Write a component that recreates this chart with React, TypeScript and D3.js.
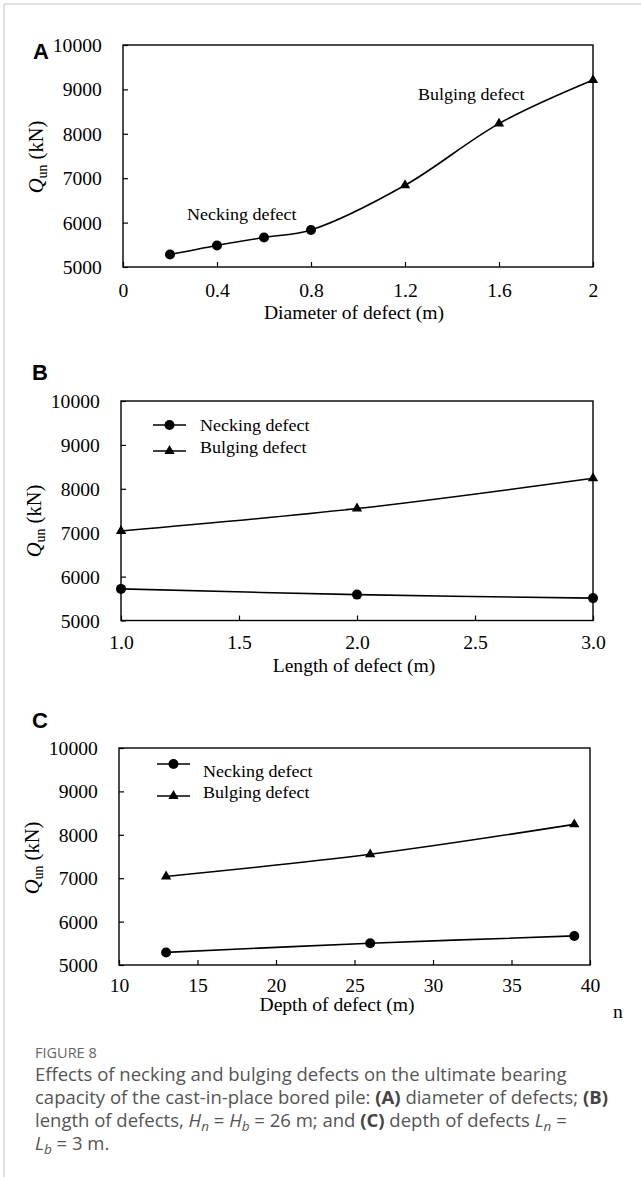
import React, { useEffect, useRef } from "react";
import * as d3 from "d3";

const W = 641;
const H = 1177;
const SERIF = "'Liberation Serif', 'Times New Roman', serif";
const SANS = "'Liberation Sans', Arial, sans-serif";
const CAPTION_FONT = "'Open Sans', 'Noto Sans', sans-serif";
const STRETCH = 1.06; // the serif text in the figure is a bit wider than Times

// shared y ticks
const qTicks = [5000, 6000, 7000, 8000, 9000, 10000];

// A: diameter of defect
const diameterNeckX = [0.2, 0.4, 0.6, 0.8];
const diameterNeckQ = [5280, 5485, 5665, 5835];
const diameterBulgeX = [1.2, 1.6, 2.0];
const diameterBulgeQ = [6840, 8230, 9210];
const diameterTicks = [0, 0.4, 0.8, 1.2, 1.6, 2];

// B: length of defect
const lengthX = [1, 2, 3];
const lengthNecking = [5720, 5590, 5510];
const lengthBulging = [7040, 7550, 8240];
const lengthTicks = [1.0, 1.5, 2.0, 2.5, 3.0];

// C: depth of defect
const depthX = [13, 26, 39];
const depthNecking = [5290, 5500, 5670];
const depthBulging = [7040, 7550, 8240];
const depthTicks = [10, 15, 20, 25, 30, 35, 40];

const seriesNames = ["Necking defect", "Bulging defect"];

const stretchText = (g, x, y, txt, size, anchor = "start") =>
  g
    .append("text")
    .attr("transform", `translate(${x},${y}) scale(${STRETCH},1)`)
    .attr("text-anchor", anchor)
    .style("font-family", SERIF)
    .attr("font-size", size)
    .attr("fill", "#000")
    .text(txt);

const drawMarker = (g, shape, cx, cy) => {
  if (shape === "circle") {
    g.append("circle").attr("cx", cx).attr("cy", cy).attr("r", 5).attr("fill", "#000");
  } else {
    g.append("path")
      .attr("d", d3.symbol(d3.symbolTriangle, 46)())
      .attr("transform", `translate(${cx},${cy})`)
      .attr("fill", "#000");
  }
};

const drawPanel = (svg, o) => {
  const g = svg.append("g");
  const x = d3.scaleLinear().domain(o.xDomain).range([o.left, o.right]);
  const y = d3.scaleLinear().domain([5000, 10000]).range([o.bottom, o.top]);

  // x axis, ticks pointing inward
  const xAxis = g
    .append("g")
    .attr("transform", `translate(0,${o.bottom})`)
    .call(
      d3.axisBottom(x).tickValues(o.xTicks).tickSizeInner(-5).tickSizeOuter(0).tickFormat(o.xFormat)
    );
  xAxis.select(".domain").remove();
  xAxis.attr("font-family", null);
  xAxis.selectAll(".tick line").attr("stroke", "#000").attr("stroke-width", 1.2);
  xAxis
    .selectAll(".tick text")
    .attr("y", o.xLabelDy)
    .attr("dy", null)
    .attr("transform", `scale(${STRETCH},1)`)
    .style("font-family", SERIF)
    .attr("font-size", 18.5)
    .attr("fill", "#000");

  // y axis, ticks pointing inward
  const yAxis = g
    .append("g")
    .attr("transform", `translate(${o.left},0)`)
    .call(
      d3.axisLeft(y).tickValues(qTicks).tickSizeInner(-5).tickSizeOuter(0).tickFormat(d3.format("d"))
    );
  yAxis.select(".domain").remove();
  yAxis.attr("font-family", null);
  yAxis.selectAll(".tick line").attr("stroke", "#000").attr("stroke-width", 1.2);
  yAxis
    .selectAll(".tick text")
    .attr("x", -20)
    .attr("dy", 6.5)
    .attr("transform", `scale(${STRETCH},1)`)
    .style("font-family", SERIF)
    .attr("font-size", 18.5)
    .attr("fill", "#000");

  // frame
  g.append("rect")
    .attr("x", o.left)
    .attr("y", o.top)
    .attr("width", o.right - o.left)
    .attr("height", o.bottom - o.top)
    .attr("fill", "none")
    .attr("stroke", "#000")
    .attr("stroke-width", 1.4);

  // axis titles
  stretchText(g, o.xTitleX, o.xTitleY, o.xTitle, 18.5, "middle");

  const yt = g
    .append("text")
    .attr("transform", `translate(${o.yTitleX},${o.yTitleY}) rotate(-90)`)
    .attr("text-anchor", "middle")
    .style("font-family", SERIF)
    .attr("font-size", 20.5)
    .attr("fill", "#000");
  yt.append("tspan").attr("font-style", "italic").text("Q");
  yt.append("tspan").attr("font-size", 14).attr("dy", 4).text("un");
  yt.append("tspan").attr("dy", -4).text(" (kN)");

  // panel letter
  g.append("text")
    .attr("x", o.letterX)
    .attr("y", o.letterY)
    .style("font-family", SANS)
    .attr("font-weight", 700)
    .attr("font-size", 22)
    .attr("fill", "#000")
    .text(o.letter);

  return { g, x, y };
};

const lineGen = (x, y) =>
  d3
    .line()
    .x((d) => x(d[0]))
    .y((d) => y(d[1]))
    .curve(d3.curveCatmullRom.alpha(0.5));

const drawLegend = (g, lx0, lx1, rows, textX) => {
  rows.forEach((r, i) => {
    g.append("line")
      .attr("x1", lx0)
      .attr("x2", lx1)
      .attr("y1", r.y)
      .attr("y2", r.y)
      .attr("stroke", "#000")
      .attr("stroke-width", 1.5);
    drawMarker(g, i === 0 ? "circle" : "triangle", (lx0 + lx1) / 2, r.y);
    stretchText(g, textX, r.ty, seriesNames[i], 17);
  });
};

const Figure = () => {
  const svgRef = useRef(null);

  useEffect(() => {
    const svg = d3.select(svgRef.current);
    svg.selectAll("*").remove();

    svg.append("rect").attr("width", W).attr("height", H).attr("fill", "#fff");
    // page frame
    svg.append("line").attr("x1", 4).attr("x2", W).attr("y1", 4).attr("y2", 4)
      .attr("stroke", "#d8d8d8").attr("stroke-width", 1.5);
    svg.append("line").attr("x1", 4).attr("x2", 4).attr("y1", 4).attr("y2", H)
      .attr("stroke", "#d8d8d8").attr("stroke-width", 1.5);

    // ---- A
    const a = drawPanel(svg, {
      left: 123, right: 593, top: 45, bottom: 267,
      xDomain: [0, 2], xTicks: diameterTicks, xFormat: (d) => String(d), xLabelDy: 30,
      xTitle: "Diameter of defect (m)", xTitleX: 354, xTitleY: 318.5,
      yTitleX: 43, yTitleY: 157, letter: "A", letterX: 33, letterY: 59,
    });
    const diaPts = diameterNeckX
      .map((v, i) => [v, diameterNeckQ[i]])
      .concat(diameterBulgeX.map((v, i) => [v, diameterBulgeQ[i]]));
    a.g.append("path")
      .attr("d", lineGen(a.x, a.y)(diaPts))
      .attr("fill", "none")
      .attr("stroke", "#000")
      .attr("stroke-width", 1.6);
    diameterNeckX.forEach((v, i) => drawMarker(a.g, "circle", a.x(v), a.y(diameterNeckQ[i])));
    diameterBulgeX.forEach((v, i) => drawMarker(a.g, "triangle", a.x(v), a.y(diameterBulgeQ[i])));
    stretchText(a.g, 187, 220, "Necking defect", 17);
    stretchText(a.g, 418, 100, "Bulging defect", 17);

    // ---- B
    const b = drawPanel(svg, {
      left: 121, right: 593, top: 401, bottom: 620.5,
      xDomain: [1, 3], xTicks: lengthTicks, xFormat: d3.format(".1f"), xLabelDy: 29,
      xTitle: "Length of defect (m)", xTitleX: 354, xTitleY: 671.5,
      yTitleX: 41, yTitleY: 521, letter: "B", letterX: 32, letterY: 380,
    });
    [lengthNecking, lengthBulging].forEach((vals, s) => {
      const pts = lengthX.map((v, i) => [v, vals[i]]);
      b.g.append("path")
        .attr("d", lineGen(b.x, b.y)(pts))
        .attr("fill", "none")
        .attr("stroke", "#000")
        .attr("stroke-width", 1.6);
      pts.forEach((p) => drawMarker(b.g, s === 0 ? "circle" : "triangle", b.x(p[0]), b.y(p[1])));
    });
    drawLegend(b.g, 153, 186, [{ y: 425, ty: 431 }, { y: 451, ty: 452.5 }], 200);

    // ---- C
    const c = drawPanel(svg, {
      left: 119, right: 590, top: 748, bottom: 965,
      xDomain: [10, 40], xTicks: depthTicks, xFormat: (d) => String(d), xLabelDy: 27.5,
      xTitle: "Depth of defect (m)", xTitleX: 337, xTitleY: 1011,
      yTitleX: 39, yTitleY: 858, letter: "C", letterX: 32, letterY: 728,
    });
    [depthNecking, depthBulging].forEach((vals, s) => {
      const pts = depthX.map((v, i) => [v, vals[i]]);
      c.g.append("path")
        .attr("d", lineGen(c.x, c.y)(pts))
        .attr("fill", "none")
        .attr("stroke", "#000")
        .attr("stroke-width", 1.6);
      pts.forEach((p) => drawMarker(c.g, s === 0 ? "circle" : "triangle", c.x(p[0]), c.y(p[1])));
    });
    drawLegend(c.g, 157, 190, [{ y: 764, ty: 777 }, { y: 796, ty: 798 }], 203);
    stretchText(svg, 613, 1018, "n", 18.5);

    // ---- caption
    const cap = svg.append("g").style("font-family", CAPTION_FONT).attr("fill", "#555");
    cap.append("text").attr("x", 35).attr("y", 1058).attr("font-size", 14.5).attr("fill", "#666")
      .text("FIGURE 8");

    const lines = [
      [["Effects of necking and bulging defects on the ultimate bearing"]],
      [
        ["capacity of the cast-in-place bored pile: "],
        ["(A)", "b"],
        [" diameter of defects; "],
        ["(B)", "b"],
      ],
      [
        ["length of defects, "], ["H", "i"], ["n", "s"], [" = "], ["H", "i"], ["b", "s"],
        [" = 26 m; and "], ["(C)", "b"], [" depth of defects "], ["L", "i"], ["n", "s"], [" ="],
      ],
      [["L", "i"], ["b", "s"], [" = 3 m."]],
    ];
    lines.forEach((parts, li) => {
      const t = cap.append("text").attr("x", 35).attr("y", 1081 + li * 23).attr("font-size", 18.5);
      let sub = false;
      parts.forEach(([txt, kind]) => {
        const sp = t.append("tspan").text(txt);
        if (kind === "b") sp.attr("font-weight", 700).attr("fill", "#444");
        if (kind === "i") sp.attr("font-style", "italic");
        if (kind === "s") {
          sp.attr("font-style", "italic").attr("font-size", 13.5).attr("dy", 4);
          sub = true;
        } else if (sub) {
          sp.attr("dy", -4);
          sub = false;
        }
      });
    });
  }, []);

  return (
    <svg
      ref={svgRef}
      width={W}
      height={H}
      style={{ position: "absolute", left: 0, top: 0, display: "block" }}
    ></svg>
  );
};

export default function App() {
  return <Figure />;
}
